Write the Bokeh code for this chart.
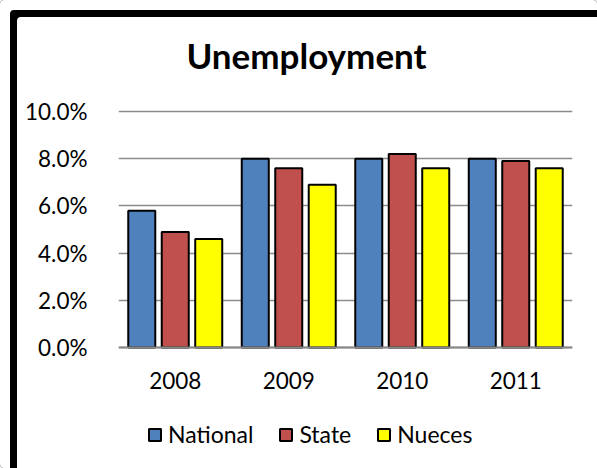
from bokeh.plotting import figure
from bokeh.models import (FactorRange, Range1d, NumeralTickFormatter, FixedTicker,
                          Legend, LegendItem, Label, ColumnDataSource)
from bokeh.transform import dodge
from bokeh.embed import file_html
from bokeh.resources import INLINE

years = ["2008", "2009", "2010", "2011"]
national = [0.058, 0.080, 0.080, 0.080]
state = [0.049, 0.076, 0.082, 0.079]
nueces = [0.046, 0.069, 0.076, 0.076]
series_names = ["National", "State", "Nueces"]
colors = ["#4F81BD", "#C0504D", "#FFFF00"]
y_ticks = [0.0, 0.02, 0.04, 0.06, 0.08, 0.10]

FONT = "Lato"

source = ColumnDataSource(dict(years=years, National=national, State=state, Nueces=nueces))

# frame spans the whole chart area so that title and legend are drawn inside it;
# the value axis keeps 0%..10% at the reference's positions.
p = figure(width=597, height=468, x_range=FactorRange(*years, range_padding=0),
           y_range=Range1d(-0.0479, 0.1386), output_backend="svg", toolbar_location=None,
           min_border_left=118, min_border_right=25, min_border_top=20, min_border_bottom=8)
p.outline_line_color = None
p.background_fill_color = "white"
p.border_fill_alpha = 0
p.styles = {"box-shadow": "inset 10px 10px 0 0 #ffffff, inset 17px 17px 0 0 #000000",
            "border-radius": "4px"}

renderers = []
offsets = [-0.295, 0.0, 0.295]
for name, col, off in zip(series_names, colors, offsets):
    r = p.vbar(x=dodge("years", off, range=p.x_range), top=name, width=0.238,
               source=source, fill_color=col, line_color="black", line_width=2)
    renderers.append(r)

# axes
p.yaxis.ticker = FixedTicker(ticks=y_ticks)
p.yaxis.formatter = NumeralTickFormatter(format="0.0%")
p.yaxis.axis_line_color = None
p.yaxis.major_tick_line_color = None
p.yaxis.minor_tick_line_color = None
p.yaxis.major_label_standoff = 25
p.yaxis.major_label_text_font = FONT
p.yaxis.major_label_text_font_size = "22.5px"
p.yaxis.major_label_text_color = "black"

p.xaxis.fixed_location = 0
p.xaxis.axis_line_color = "#868686"
p.xaxis.axis_line_width = 2
p.xaxis.major_tick_line_color = None
p.xaxis.minor_tick_line_color = None
p.xaxis.major_label_standoff = 19
p.xaxis.major_label_text_font = FONT
p.xaxis.major_label_text_font_size = "22.5px"
p.xaxis.major_label_text_color = "black"

p.xgrid.grid_line_color = None
p.ygrid.ticker = FixedTicker(ticks=y_ticks)
p.ygrid.grid_line_color = "#8C8C8C"
p.ygrid.grid_line_width = 1.5

# title
title = Label(x=188, y=406, x_units="screen", y_units="screen", text="Unemployment",
              text_font=FONT, text_font_style="bold", text_font_size="35px",
              text_align="center", text_baseline="alphabetic", text_color="black")
p.add_layout(title)

# legend
legend = Legend(items=[LegendItem(label=n, renderers=[r]) for n, r in zip(series_names, renderers)],
                orientation="horizontal", location=(29, 12),
                glyph_width=15, glyph_height=15, label_standoff=6, spacing=25,
                padding=0, margin=0, border_line_color=None, background_fill_alpha=0,
                label_text_font=FONT, label_text_font_size="23px", label_text_color="black",
                label_height=15)
p.add_layout(legend)

open("out.html", "w").write(file_html(p, INLINE))
